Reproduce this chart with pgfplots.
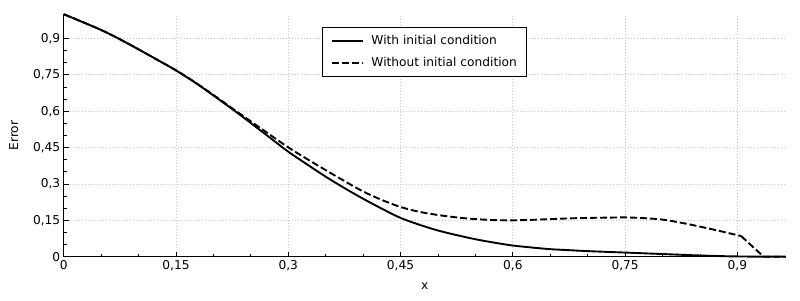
\documentclass[border=0pt]{standalone}
\usepackage{fontspec}
\setmainfont{DejaVu Sans}
\usepackage{pgfplots}
\pgfplotsset{compat=1.18}
\begin{document}
\begin{tikzpicture}
\begin{axis}[
  scale only axis,
  width=722pt, height=242.5pt,
  xmin=0, xmax=0.9645, ymin=0, ymax=1,
  axis x line*=bottom, axis y line*=left,
  axis line style={-, line width=1pt},
  xtick={0,0.15,0.3,0.45,0.6,0.75,0.9},
  ytick={0,0.15,0.3,0.45,0.6,0.75,0.9},
  minor tick num=2,
  tick align=inside,
  major tick length=5pt, minor tick length=3pt,
  tick style={black, line width=0.8pt},
  grid=major,
  major grid style={gray!45, line width=0.8pt, dash pattern=on 1pt off 2pt},
  /pgf/number format/use comma,
  /pgf/number format/assume math mode=true,
  tick label style={font=\fontsize{12.2}{14.6}\selectfont},
  label style={font=\fontsize{12.2}{14.6}\selectfont},
  xlabel={x}, ylabel={Error},
  xlabel style={at={(axis description cs:0.5,-0.121)}, anchor=center},
  ylabel style={at={(axis description cs:-0.069,0.5)}, anchor=center},
  clip=false,
  legend style={at={(0.358,0.947)}, anchor=north west, draw=black, line width=0.8pt,
    font=\fontsize{12.2}{14.6}\selectfont, inner xsep=8pt, inner ysep=6pt,
    row sep=7pt},
  legend cell align=left,
  legend image code/.code={\draw[#1] (0pt,0pt) -- (31pt,0pt); \path (37pt,0pt);},
]
\addplot[black, line width=1.9pt, smooth] coordinates {
(0,1.000) (0.025,0.968) (0.05,0.935) (0.073,0.900) (0.1,0.855) (0.125,0.812)
(0.15,0.768) (0.175,0.719) (0.2,0.665) (0.229,0.600) (0.25,0.551) (0.275,0.492)
(0.3,0.433) (0.325,0.381) (0.35,0.330) (0.375,0.283) (0.4,0.239) (0.425,0.198)
(0.45,0.160) (0.475,0.132) (0.5,0.108) (0.525,0.089) (0.55,0.072) (0.575,0.058)
(0.6,0.046) (0.625,0.038) (0.65,0.031) (0.675,0.027) (0.7,0.023) (0.75,0.017)
(0.8,0.011) (0.85,0.005) (0.9,0.001) (0.9645,0)
};
\addlegendentry{With initial condition}
\addplot[black, line width=1.9pt, dash pattern=on 7pt off 3pt, smooth] coordinates {
(0,1.000) (0.025,0.968) (0.05,0.935) (0.073,0.900) (0.1,0.855) (0.125,0.812)
(0.15,0.769) (0.175,0.720) (0.2,0.667) (0.225,0.612) (0.25,0.558) (0.275,0.504)
(0.3,0.451) (0.325,0.403) (0.35,0.357) (0.375,0.312) (0.4,0.269) (0.425,0.234)
(0.45,0.205) (0.475,0.185) (0.5,0.172) (0.525,0.162) (0.55,0.155) (0.575,0.151)
(0.6,0.150) (0.625,0.152) (0.65,0.155) (0.675,0.158) (0.7,0.160) (0.725,0.161)
(0.75,0.162) (0.775,0.159) (0.8,0.153) (0.825,0.140) (0.85,0.124) (0.875,0.107)
(0.905,0.085)
};
\addlegendentry{Without initial condition}
\addplot[black, line width=1.9pt, dash pattern=on 7pt off 3pt, forget plot] coordinates {
(0.905,0.085) (0.935,0) (0.9645,0)
};
\end{axis}
\pgfresetboundingbox
\path (-63.7pt,-43.3pt) rectangle (736.3pt,256.7pt);
\end{tikzpicture}
\end{document}
